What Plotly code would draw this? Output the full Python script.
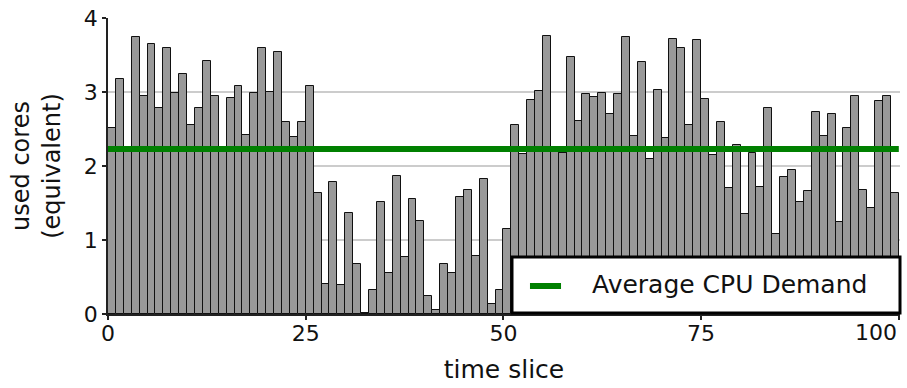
import numpy as np
import plotly.graph_objects as go

# CPU usage per time slice (used cores, equivalent)
time_slice = list(range(100))
used_cores = [
    2.51, 3.18, 2.20, 3.74, 2.94, 3.65, 2.78, 3.59, 2.99, 3.24,
    2.55, 2.78, 3.42, 2.94, 2.23, 2.92, 3.08, 2.42, 2.98, 3.60,
    3.00, 3.54, 2.60, 2.39, 2.59, 3.08, 1.63, 0.40, 1.78, 0.39,
    1.36, 0.67, 0.02, 0.33, 1.52, 0.56, 1.87, 0.77, 1.55, 1.26,
    0.25, 0.05, 0.67, 0.55, 1.58, 1.68, 0.79, 1.82, 0.13, 0.32,
    1.15, 2.56, 2.16, 2.89, 3.02, 3.76, 2.23, 2.18, 3.47, 2.61,
    2.97, 2.93, 2.99, 2.70, 2.97, 3.74, 2.41, 3.41, 2.10, 3.03,
    2.38, 3.72, 3.60, 2.56, 3.70, 2.91, 2.15, 2.60, 1.70, 2.29,
    1.35, 2.17, 1.71, 2.78, 1.08, 1.85, 1.95, 1.51, 1.66, 2.73,
    2.41, 2.70, 1.25, 2.51, 2.94, 1.68, 1.43, 2.88, 2.95, 1.64,
]
x_ticks = [0, 25, 50, 75, 100]
y_ticks = [0, 1, 2, 3, 4]
legend_label = "Average CPU Demand"

avg_demand = float(np.mean(used_cores))
FONT = "DejaVu Sans"
GREEN = "#008000"
TEXT = "#111111"

fig = go.Figure()

fig.add_trace(go.Bar(
    x=time_slice,
    y=used_cores,
    width=1,
    offset=0,
    marker=dict(color="#999999", line=dict(color="#111111", width=1)),
    showlegend=False,
    hoverinfo="skip",
))

fig.add_trace(go.Scatter(
    x=[0, 100],
    y=[avg_demand, avg_demand],
    mode="lines",
    line=dict(color=GREEN, width=6),
    name=legend_label,
    showlegend=False,
    cliponaxis=False,
))

# Legend box in the lower right corner of the plot area
fig.add_shape(type="rect", xref="paper", yref="paper",
              x0=0.5101, x1=1.0, y0=0.0034, y1=0.1926,
              fillcolor="white", line=dict(color="black", width=3), layer="above")
fig.add_shape(type="line", xref="paper", yref="paper",
              x0=0.5328, x1=0.5720, y0=0.0946, y1=0.0946,
              line=dict(color=GREEN, width=6), layer="above")
fig.add_annotation(xref="paper", yref="paper", x=0.6086, y=0.0980,
                   xanchor="left", yanchor="middle", showarrow=False,
                   text=legend_label,
                   font=dict(family=FONT, size=25, color=TEXT))

# the last x tick label is kept inside the figure, flush with the axis end
tick_text = [str(v) for v in x_ticks[:-1]] + [""]
fig.add_annotation(xref="x", yref="paper", x=x_ticks[-1], y=0,
                   xanchor="right", yanchor="top", yshift=-4, xshift=0,
                   showarrow=False, text=str(x_ticks[-1]),
                   font=dict(family=FONT, size=22, color=TEXT))

fig.update_layout(
    width=907,
    height=388,
    margin=dict(l=108, r=7, t=18, b=74),
    paper_bgcolor="white",
    plot_bgcolor="white",
    bargap=0,
    showlegend=False,
    font=dict(family=FONT, size=22, color=TEXT),
    xaxis=dict(
        range=[0, 100.15],
        tickvals=x_ticks,
        ticktext=tick_text,
        ticks="outside",
        ticklen=4,
        tickwidth=1.5,
        tickcolor="#222222",
        ticklabelstandoff=-5,
        showgrid=False,
        zeroline=False,
        showline=True,
        linecolor="#222222",
        linewidth=1.5,
        tickfont=dict(size=22),
        title=dict(text="time slice", font=dict(size=25), standoff=15),
    ),
    yaxis=dict(
        range=[0, 4],
        tickvals=y_ticks,
        ticktext=[str(v) for v in y_ticks],
        ticks="outside",
        ticklen=4,
        tickwidth=1.5,
        tickcolor="#222222",
        showgrid=True,
        gridcolor="#cccccc",
        gridwidth=1.5,
        zeroline=False,
        showline=True,
        linecolor="#222222",
        linewidth=1.5,
        tickfont=dict(size=22),
        title=dict(text="used cores<br>(equivalent)", font=dict(size=24), standoff=16),
    ),
)

fig.write_html("out.html")
